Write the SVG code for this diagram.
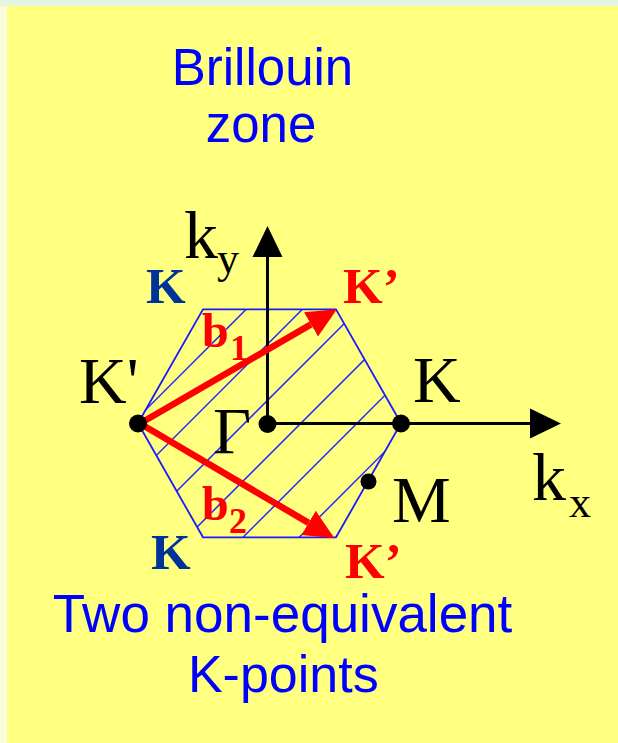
<svg xmlns="http://www.w3.org/2000/svg" width="618" height="743" viewBox="0 0 618 743">
<style>
.title{font-family:"Liberation Sans",Arial,sans-serif;fill:#0000ff;text-anchor:middle}
.lbl{font-family:"Liberation Serif","Times New Roman",serif;fill:#000}
.bk{font-family:"Liberation Serif","Times New Roman",serif;font-weight:bold;fill:#003399}
.rk{font-family:"Liberation Serif","Times New Roman",serif;font-weight:bold;fill:#ff0000}
.hex{fill:none;stroke:#1a1aff;stroke-width:1.8;stroke-linejoin:miter}
.hatch{stroke:#2828ff;stroke-width:1.5}
.axis{stroke:#000;stroke-width:3;fill:none}
.vec{stroke:#ff0000;stroke-width:6.5;fill:none}
.dot{fill:#000}
</style>
<defs>
<marker id="blackArrow" markerUnits="userSpaceOnUse" markerWidth="31" markerHeight="31" viewBox="0 -15 30 30" refX="0" refY="0" orient="auto">
<path d="M0,-14.5 L30,0 L0,14.5 z" fill="#000"/>
</marker>
<marker id="redArrow" markerUnits="userSpaceOnUse" markerWidth="31" markerHeight="30" viewBox="0 -15 31 30" refX="0" refY="0" orient="auto">
<path d="M0,-14 L30,0 L0,14 z" fill="#ff0000"/>
</marker>
<clipPath id="hexClip">
<polygon points="138,423.3 203,309.3 336,309.3 401,423.3 336,537.3 203,537.3"/>
</clipPath>
</defs>
<g id="background">
<rect x="0" y="0" width="618" height="743" fill="#fafed8"/>
<rect x="0" y="0" width="618" height="6" fill="#e6f4e4"/>
<rect x="7" y="6" width="611" height="737" fill="#ffff80"/>
</g>
<g id="title-top">
<text class="title" x="262.5" y="85" font-size="51">Brillouin</text>
<text class="title" x="261" y="142" font-size="51">zone</text>
</g>
<g id="brillouin-zone">
<g clip-path="url(#hexClip)">
<line class="hatch" x1="305.5" y1="250" x2="-44.5" y2="600"/>
<line class="hatch" x1="361.7" y1="250" x2="11.7" y2="600"/>
<line class="hatch" x1="417.9" y1="250" x2="67.9" y2="600"/>
<line class="hatch" x1="474.1" y1="250" x2="124.1" y2="600"/>
<line class="hatch" x1="530.3" y1="250" x2="180.3" y2="600"/>
<line class="hatch" x1="586.5" y1="250" x2="236.5" y2="600"/>
</g>
<polygon class="hex" points="138,423.3 203,309.3 336,309.3 401,423.3 336,537.3 203,537.3"/>
</g>
<g id="connectors">
<line id="ky-axis" class="axis" x1="267.5" y1="424" x2="267.5" y2="257" marker-end="url(#blackArrow)"/>
<line id="kx-axis" class="axis" x1="267.5" y1="423.5" x2="530" y2="423.5" marker-end="url(#blackArrow)"/>
<line id="b1" class="vec" x1="140" y1="423.5" x2="311" y2="324.4" marker-end="url(#redArrow)"/>
<line id="b2" class="vec" x1="140" y1="423.5" x2="308.6" y2="522.9" marker-end="url(#redArrow)"/>
</g>
<g id="point-Kprime">
<circle class="dot" cx="138" cy="423.5" r="9"/>
<text class="lbl" x="79" y="403" font-size="66">K'</text>
</g>
<g id="point-Gamma">
<circle class="dot" cx="267.5" cy="424" r="9"/>
<text class="lbl" x="213" y="453" font-size="66">Γ</text>
</g>
<g id="point-K">
<circle class="dot" cx="401" cy="423.5" r="9"/>
<text class="lbl" x="413" y="402" font-size="66">K</text>
</g>
<g id="point-M">
<circle class="dot" cx="368.5" cy="481.5" r="8"/>
<text class="lbl" x="392" y="521.5" font-size="66">M</text>
</g>
<g id="axis-labels">
<text class="lbl" x="184" y="258" font-size="68">k<tspan font-size="44" x="217" y="273">y</tspan></text>
<text class="lbl" x="532" y="500" font-size="68">k<tspan font-size="44" x="569" y="517">x</tspan></text>
</g>
<g id="corner-labels">
<text class="bk" x="146" y="303" font-size="51">K</text>
<text class="bk" x="151" y="569" font-size="51">K</text>
<text class="rk" x="343" y="303" font-size="51">K’</text>
<text class="rk" x="345" y="578" font-size="51">K’</text>
</g>
<g id="vector-labels">
<text class="rk" x="202" y="347" font-size="48">b<tspan font-size="36" x="230" y="360">1</tspan></text>
<text class="rk" x="202" y="520" font-size="48">b<tspan font-size="36" x="229" y="533">2</tspan></text>
</g>
<g id="title-bottom">
<text class="title" x="282.5" y="632" font-size="53">Two non-equivalent</text>
<text class="title" x="283.3" y="692" font-size="52">K-points</text>
</g>
</svg>
